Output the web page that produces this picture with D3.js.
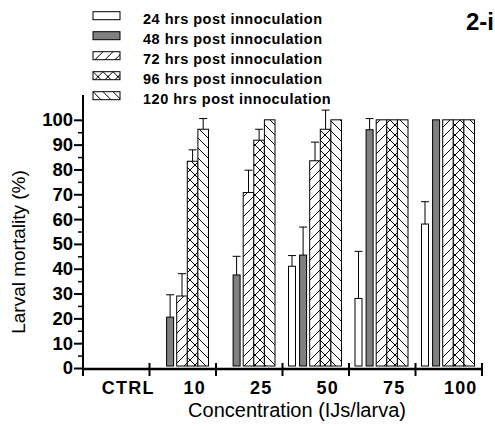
<!DOCTYPE html>
<html>
<head>
<meta charset="utf-8">
<script src="https://cdn.jsdelivr.net/npm/d3@7"></script>
<style>
  body { margin: 0; background: #fff; }
  text { font-family: "Liberation Sans", Arial, sans-serif; }
</style>
</head>
<body>
<svg id="chart" width="495" height="428"></svg>
<script>
// data
var categories = ["CTRL", "10", "25", "50", "75", "100"];
var series = ["24 hrs post innoculation", "48 hrs post innoculation", "72 hrs post innoculation",
              "96 hrs post innoculation", "120 hrs post innoculation"];
var h24  = [0, 0, 0, 41, 28, 58];
var h48  = [0, 20.5, 37.5, 45.5, 96, 100];
var h72  = [0, 29, 70.7, 83.5, 100, 100];
var h96  = [0, 83.3, 91.8, 96.2, 100, 100];
var h120 = [0, 96.2, 100, 100, 100, 100];
var e24  = [0, 0, 0, 4.3, 19, 9];
var e48  = [0, 9, 7.5, 11.3, 4.5, 0];
var e72  = [0, 9, 9, 7.5, 0, 0];
var e96  = [0, 4.6, 4.4, 7.7, 0, 0];
var e120 = [0, 4.3, 0, 0, 0, 0];
var yTicks = [0, 10, 20, 30, 40, 50, 60, 70, 80, 90, 100];

var values = [h24, h48, h72, h96, h120];
var errors = [e24, e48, e72, e96, e120];
var fills = ["#fff", "#808080", "url(#hatchFwd)", "url(#hatchCross)", "url(#hatchBack)"];

var svg = d3.select("#chart");

// hatching patterns
var defs = svg.append("defs");
var P = 10;
function pattern(id, paths) {
  var p = defs.append("pattern")
    .attr("id", id)
    .attr("patternUnits", "userSpaceOnUse")
    .attr("width", P).attr("height", P);
  p.append("rect").attr("width", P).attr("height", P).attr("fill", "#fff");
  paths.forEach(function(d) {
    p.append("path").attr("d", d).attr("stroke", "#000").attr("stroke-width", 1).attr("fill", "none");
  });
}
var fwd = "M-2,2 L2,-2 M0," + P + " L" + P + ",0 M" + (P - 2) + "," + (P + 2) + " L" + (P + 2) + "," + (P - 2);
var back = "M-2," + (P - 2) + " L2," + (P + 2) + " M0,0 L" + P + "," + P + " M" + (P - 2) + ",-2 L" + (P + 2) + ",2";
pattern("hatchFwd", [fwd]);
pattern("hatchBack", [back]);
pattern("hatchCross", [fwd, back]);

var x = d3.scaleBand().domain(categories).range([83, 482]).padding(0);
var inner = d3.scaleBand().domain(d3.range(series.length)).range([6, 59]).padding(0);
var y = d3.scaleLinear().domain([0, 110]).range([368, 95]);

// bars
series.forEach(function(s, i) {
  var thin = i < 2;
  var w = thin ? 7 : inner.bandwidth();
  var off = thin ? 0.5 * i : 0;
  var g = svg.append("g");
  var rows = categories.map(function(c, j) { return { c: c, v: values[i][j], e: errors[i][j] }; })
    .filter(function(d) { return d.v > 0; });
  g.selectAll("rect").data(rows).enter().append("rect")
    .attr("x", function(d) { return x(d.c) + inner(i) + off; })
    .attr("y", function(d) { return y(d.v); })
    .attr("width", w)
    .attr("height", function(d) { return y(0) - 2 - y(d.v); })
    .attr("fill", fills[i])
    .attr("stroke", "#000")
    .attr("stroke-width", 1);
  var eb = g.selectAll("g.err").data(rows.filter(function(d) { return d.e > 0; })).enter().append("g");
  eb.append("line")
    .attr("x1", function(d) { return x(d.c) + inner(i) + off + w / 2; })
    .attr("x2", function(d) { return x(d.c) + inner(i) + off + w / 2; })
    .attr("y1", function(d) { return y(d.v); })
    .attr("y2", function(d) { return y(d.v + d.e); })
    .attr("stroke", "#000");
  eb.append("line")
    .attr("x1", function(d) { return x(d.c) + inner(i) + off + w / 2 - 4; })
    .attr("x2", function(d) { return x(d.c) + inner(i) + off + w / 2 + 4; })
    .attr("y1", function(d) { return y(d.v + d.e); })
    .attr("y2", function(d) { return y(d.v + d.e); })
    .attr("stroke", "#000");
});

// y axis
var yAxis = svg.append("g")
  .attr("transform", "translate(83,0)")
  .call(d3.axisLeft(y).tickValues(yTicks).tickSize(9).tickPadding(1));
yAxis.select(".domain").attr("stroke-width", 2).attr("d", "M0," + y(0) + "V" + y(110));
yAxis.selectAll(".tick line").attr("stroke-width", 2);
yAxis.selectAll(".tick text")
  .attr("font-size", 18.5).attr("font-weight", "bold")
  .attr("font-family", "Liberation Sans, Arial, sans-serif").attr("fill", "#000");
svg.append("g")
  .attr("transform", "translate(83,0)")
  .call(d3.axisLeft(y).tickValues(yTicks.map(function(t) { return t + 5; }).slice(0, 10)).tickSize(5).tickFormat(""))
  .call(function(g) { g.select(".domain").remove(); g.selectAll("line").attr("stroke-width", 1.5); });

// x axis
var xAxis = svg.append("g").attr("transform", "translate(0," + (y(0) + 1) + ")");
xAxis.append("line").attr("x1", 82).attr("x2", 483).attr("stroke", "#000").attr("stroke-width", 2.5);
var bounds = categories.map(function(c) { return x(c); }).concat([x.range()[1]]);
xAxis.selectAll("line.tk").data(bounds).enter().append("line")
  .attr("x1", function(d) { return d; }).attr("x2", function(d) { return d; })
  .attr("y1", -6).attr("y2", 7)
  .attr("stroke", "#000").attr("stroke-width", 2);
xAxis.selectAll("text").data(categories).enter().append("text")
  .attr("x", function(d) { return x(d) + x.bandwidth() / 2 + 12; })
  .attr("y", 25)
  .attr("text-anchor", "middle")
  .attr("font-size", 18).attr("font-weight", "bold")
  .attr("letter-spacing", 1.2)
  .text(function(d) { return d; });

// titles
svg.append("text")
  .attr("x", 297).attr("y", 417)
  .attr("text-anchor", "middle")
  .attr("font-size", 20)
  .text("Concentration (IJs/larva)");
svg.append("text")
  .attr("transform", "translate(25,252) rotate(-90)")
  .attr("text-anchor", "middle")
  .attr("font-size", 19)
  .text("Larval mortality (%)");
svg.append("text")
  .attr("x", 494).attr("y", 30)
  .attr("text-anchor", "end")
  .attr("font-size", 24).attr("font-weight", "bold")
  .text("2-i");

// legend
var legend = svg.append("g").selectAll("g").data(series).enter().append("g")
  .attr("transform", function(d, i) { return "translate(93," + (11.7 + i * 20) + ")"; });
legend.append("rect")
  .attr("width", 27).attr("height", 8)
  .attr("fill", function(d, i) { return fills[i]; })
  .attr("stroke", "#000");
legend.append("text")
  .attr("x", 50).attr("y", 12.5)
  .attr("font-size", 14.5).attr("font-weight", "bold")
  .attr("letter-spacing", 0.5)
  .text(function(d) { return d; });
</script>
</body>
</html>
